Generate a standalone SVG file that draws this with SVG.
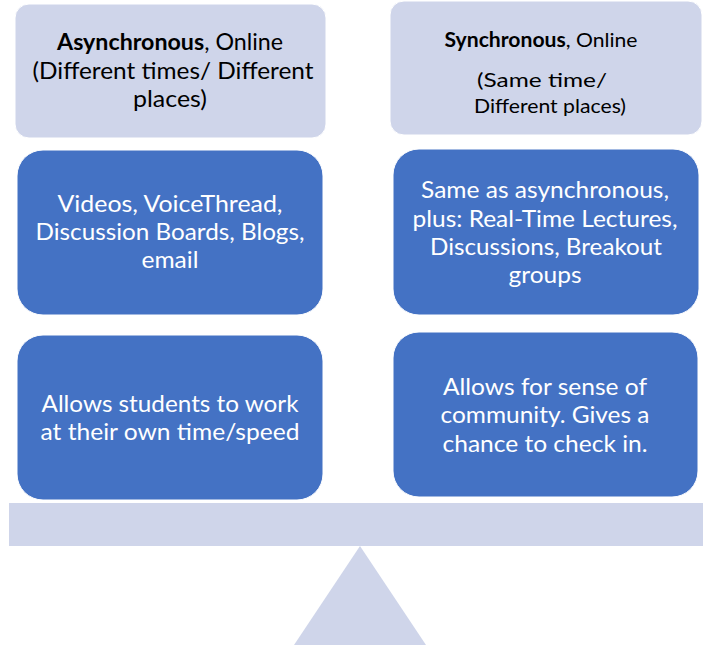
<svg xmlns="http://www.w3.org/2000/svg" width="703" height="645" viewBox="0 0 703 645">
<style>
.light{fill:#CFD5EA;stroke:#ffffff;stroke-width:1}
.dark{fill:#4472C4;stroke:#ffffff;stroke-width:1}
.t{font-family:Lato,"Liberation Sans",sans-serif;text-anchor:middle;}
.tb{fill:#000000;font-size:23px}
.tw{fill:#ffffff;font-size:23px}
.ts{fill:#000000;font-size:20px}
.b{font-weight:bold}
</style>
<rect x="0" y="0" width="703" height="645" fill="#ffffff"/>
<g id="header-async">
<rect class="light" x="15" y="4" width="311" height="134" rx="14"/>
<text class="t tb" x="170" y="50" textLength="226" lengthAdjust="spacingAndGlyphs"><tspan class="b">Asynchronous</tspan>, Online</text>
<text class="t tb" x="173" y="79" textLength="281" lengthAdjust="spacingAndGlyphs">(Different times/ Different</text>
<text class="t tb" x="170" y="107" textLength="74" lengthAdjust="spacingAndGlyphs">places)</text>
</g>
<g id="header-sync">
<rect class="light" x="390" y="1" width="312" height="134" rx="14"/>
<text class="t ts" x="541" y="47" textLength="193" lengthAdjust="spacingAndGlyphs"><tspan class="b">Synchronous</tspan>, Online</text>
<text class="t ts" x="542" y="87" textLength="130" lengthAdjust="spacingAndGlyphs">(Same time/</text>
<text class="t ts" x="550" y="113" textLength="152" lengthAdjust="spacingAndGlyphs">Different places)</text>
</g>
<g id="tools-async">
<rect class="dark" x="17" y="150" width="306" height="165" rx="26"/>
<text class="t tw" x="170" y="212" textLength="225" lengthAdjust="spacingAndGlyphs">Videos, VoiceThread,</text>
<text class="t tw" x="170" y="240" textLength="269" lengthAdjust="spacingAndGlyphs">Discussion Boards, Blogs,</text>
<text class="t tw" x="170" y="268" textLength="57" lengthAdjust="spacingAndGlyphs">email</text>
</g>
<g id="tools-sync">
<rect class="dark" x="393" y="149" width="306" height="166" rx="26"/>
<text class="t tw" x="545" y="198" textLength="248" lengthAdjust="spacingAndGlyphs">Same as asynchronous,</text>
<text class="t tw" x="545" y="227" textLength="265" lengthAdjust="spacingAndGlyphs">plus: Real-Time Lectures,</text>
<text class="t tw" x="546" y="255" textLength="232" lengthAdjust="spacingAndGlyphs">Discussions, Breakout</text>
<text class="t tw" x="545" y="283" textLength="73" lengthAdjust="spacingAndGlyphs">groups</text>
</g>
<g id="benefit-async">
<rect class="dark" x="17" y="335" width="306" height="165" rx="26"/>
<text class="t tw" x="170" y="412" textLength="257" lengthAdjust="spacingAndGlyphs">Allows students to work</text>
<text class="t tw" x="170" y="440" textLength="259" lengthAdjust="spacingAndGlyphs">at their own time/speed</text>
</g>
<g id="benefit-sync">
<rect class="dark" x="393" y="332" width="305" height="165" rx="26"/>
<text class="t tw" x="545" y="395" textLength="204" lengthAdjust="spacingAndGlyphs">Allows for sense of</text>
<text class="t tw" x="545" y="423" textLength="209" lengthAdjust="spacingAndGlyphs">community. Gives a</text>
<text class="t tw" x="545" y="452" textLength="205" lengthAdjust="spacingAndGlyphs">chance to check in.</text>
</g>
<g id="balance">
<rect x="9" y="503" width="694" height="43" fill="#CFD5EA"/>
<polygon points="360,546 294,645 426,645" fill="#CFD5EA"/>
</g>
<g id="connectors"></g>
</svg>
